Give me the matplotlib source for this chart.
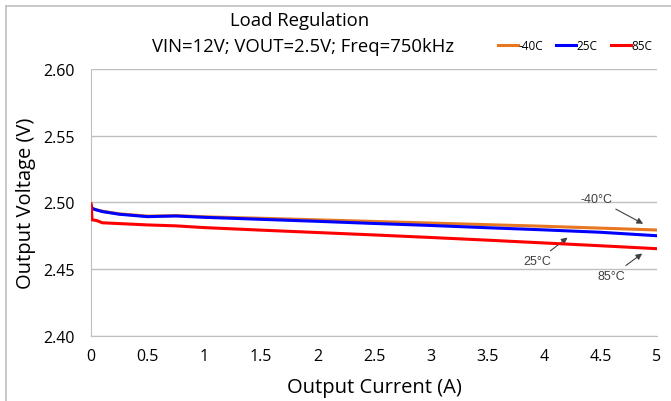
import matplotlib
matplotlib.use("Agg")
import matplotlib.pyplot as plt
from matplotlib.lines import Line2D

plt.rcParams['font.family'] = ['Open Sans', 'DejaVu Sans']

current = [0.0, 0.01, 0.05, 0.1, 0.25, 0.5, 0.75, 1.0, 1.5, 2.0, 2.5, 3.0, 3.5, 4.0, 4.5, 5.0]
v_m40 = [2.498, 2.4955, 2.4945, 2.4935, 2.4915, 2.4898, 2.4902, 2.4893, 2.4882, 2.4870, 2.4858, 2.4846, 2.4834, 2.4822, 2.4808, 2.4794]
v_25 = [2.498, 2.4955, 2.4944, 2.4932, 2.4912, 2.4894, 2.4899, 2.4889, 2.4874, 2.4859, 2.4843, 2.4828, 2.4811, 2.4795, 2.4777, 2.4751]
v_85 = [2.499, 2.487, 2.4865, 2.4848, 2.4842, 2.4832, 2.4825, 2.4812, 2.4793, 2.4775, 2.4757, 2.4738, 2.4718, 2.4697, 2.4676, 2.4654]
series_names = ['-40C', '25C', '85C']
colors = ['#E87722', '#0000FF', '#FF0000']
x_ticks = [0, 0.5, 1, 1.5, 2, 2.5, 3, 3.5, 4, 4.5, 5]
x_tick_labels = ['0', '0.5', '1', '1.5', '2', '2.5', '3', '3.5', '4', '4.5', '5']
y_ticks = [2.40, 2.45, 2.50, 2.55, 2.60]
y_tick_labels = ['2.40', '2.45', '2.50', '2.55', '2.60']

fig = plt.figure(figsize=(6.71, 4.02), dpi=100)
ax = fig.add_axes([0.1356, 0.1617, 0.979 - 0.1356, 0.8259 - 0.1617])

for v, c, z in zip([v_m40, v_25, v_85], colors, [2, 3, 4]):
    ax.plot(current, v, color=c, lw=2.2, zorder=z, solid_joinstyle='round')

ax.set_xlim(0, 5)
ax.set_ylim(2.40, 2.60)
ax.set_xticks(x_ticks)
ax.set_xticklabels(x_tick_labels, fontsize=11.5)
ax.set_yticks(y_ticks)
ax.set_yticklabels(y_tick_labels, fontsize=11.5)
ax.tick_params(axis='x', length=0, pad=9)
ax.tick_params(axis='y', length=0, pad=12)
ax.grid(axis='y', color='#BFBFBF', lw=1)
for s in ['top', 'right']:
    ax.spines[s].set_visible(False)
for s in ['left', 'bottom']:
    ax.spines[s].set_color('#BFBFBF')
ax.set_axisbelow(True)

ax.set_xlabel('Output Current (A)', fontsize=14.5, labelpad=9)
ax.set_ylabel('Output Voltage (V)', fontsize=14.5, labelpad=5)

fig.text(0.447, 0.948, 'Load Regulation', ha='center', va='center', fontsize=13.3)
fig.text(0.452, 0.883, 'VIN=12V; VOUT=2.5V; Freq=750kHz', ha='center', va='center', fontsize=13.3)

handles = [Line2D([0], [0], color=c, lw=2.2) for c in colors]
fig.legend(handles, series_names, loc='center', bbox_to_anchor=(0.857, 0.885), ncol=3,
           frameon=False, fontsize=8.5, handlelength=1.7, handletextpad=0.05, columnspacing=1.1,
           borderpad=0.2)

ann = dict(arrowstyle='-|>', color='#404040', lw=0.8, mutation_scale=9)
ax.annotate('-40°C', xy=(4.90, 2.4831), xytext=(4.47, 2.5026), ha='center', va='center',
            fontsize=9, color='#404040', family=['Liberation Sans'], arrowprops=ann)
ax.annotate('25°C', xy=(4.23, 2.4750), xytext=(3.94, 2.456), ha='center', va='center',
            fontsize=9, color='#404040', family=['Liberation Sans'], arrowprops=ann)
ax.annotate('85°C', xy=(4.89, 2.4630), xytext=(4.60, 2.445), ha='center', va='center',
            fontsize=9, color='#404040', family=['Liberation Sans'], arrowprops=ann)

fig.add_artist(Line2D([6/671, 6/671], [0, 1 - 7/402], transform=fig.transFigure, color='#BFBFBF', lw=1.2))
fig.add_artist(Line2D([6/671, 1], [1 - 7/402, 1 - 7/402], transform=fig.transFigure, color='#BFBFBF', lw=1.2))

fig.savefig('out.png', dpi=100)
